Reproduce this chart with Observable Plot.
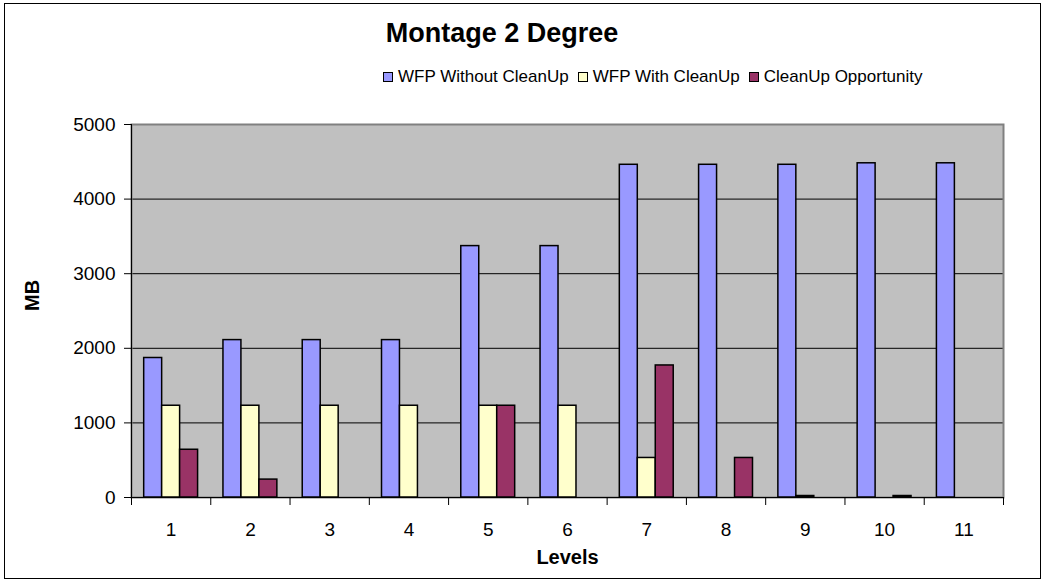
<!DOCTYPE html>
<html>
<head>
<meta charset="utf-8">
<script src="https://cdn.jsdelivr.net/npm/d3@7"></script>
<script src="https://cdn.jsdelivr.net/npm/@observablehq/plot@0.6"></script>
<style>
  html, body { margin: 0; padding: 0; background: white; }
  #chart { position: relative; width: 1045px; height: 582px; font-family: "Liberation Sans", Arial, sans-serif; color: black; overflow: hidden; }
  #border { position: absolute; left: 4px; top: 3px; width: 1035px; height: 574px; border: 1px solid black; pointer-events: none; }
  #title { position: absolute; left: 502px; transform: translateX(-50%); top: 17px; white-space: nowrap; font-size: 27px; font-weight: bold; line-height: 32px; }
  #legend { position: absolute; left: 383px; top: 66px; display: flex; align-items: center; font-size: 17px; line-height: 22px; white-space: nowrap; }
  .item { display: flex; align-items: center; margin-right: 9px; }
  .item:last-child { margin-right: 0; }
  .swatch { width: 8px; height: 8px; border: 1px solid black; margin-right: 5px; }
  #plots { position: absolute; left: 0; top: 100px; width: 1045px; height: 482px; }
  #plots svg { position: absolute; left: 0; top: 0; background: transparent !important; overflow: visible; }
</style>
</head>
<body>
<div id="chart">
  <div id="title"></div>
  <div id="legend"></div>
  <div id="plots"></div>
  <div id="border"></div>
</div>
<script>
// ---- data ----
const titleText = "Montage 2 Degree";
const levels = [1, 2, 3, 4, 5, 6, 7, 8, 9, 10, 11];
const seriesNames = ["WFP Without CleanUp", "WFP With CleanUp", "CleanUp Opportunity"];
const seriesColors = ["#9999ff", "#ffffcc", "#993366"];
const withoutCleanUp = [1870, 2110, 2110, 2110, 3370, 3370, 4460, 4460, 4460, 4480, 4480];
const withCleanUp    = [1230, 1230, 1230, 1230, 1230, 1230, 530, 0, 20, 0, 0];
const opportunity    = [640, 240, 0, 0, 1230, 0, 1770, 530, 0, 20, 0];
const yTicks = [0, 1000, 2000, 3000, 4000, 5000];
const xLabel = "Levels";
const yLabel = "MB";

// ---- header ----
document.getElementById("title").textContent = titleText;
const legend = document.getElementById("legend");
seriesNames.forEach((name, i) => {
  const item = document.createElement("div");
  item.className = "item";
  const sw = document.createElement("div");
  sw.className = "swatch";
  sw.style.background = seriesColors[i];
  const label = document.createElement("span");
  label.textContent = name;
  item.appendChild(sw);
  item.appendChild(label);
  legend.appendChild(item);
});

// ---- table ----
const seriesValues = [withoutCleanUp, withCleanUp, opportunity];
const rows = levels.flatMap((level, i) =>
  seriesValues.map((vals, s) => ({level, series: seriesNames[s], value: vals[i]}))
).filter(d => d.value > 0);

const W = 1045, H = 482;
const margins = {marginTop: 24, marginBottom: 85, marginLeft: 131, marginRight: 42};
const yScale = {domain: [yTicks[0], yTicks[yTicks.length - 1]]};
const font = {fontFamily: "'Liberation Sans', Arial, sans-serif", fontSize: "19px", background: "transparent", overflow: "visible"};

const boundaries = d3.range(levels[0] - 0.5, levels[levels.length - 1] + 1, 1);

// base: background, grid, axes
const base = Plot.plot({
  width: W, height: H, ...margins,
  style: font,
  x: {type: "linear", domain: [levels[0] - 0.5, levels[levels.length - 1] + 0.5], axis: null},
  y: {...yScale, axis: null},
  marks: [
    Plot.frame({fill: "#c0c0c0"}),
    Plot.ruleY(yTicks.slice(1, -1), {stroke: "black", strokeWidth: 1}),
    Plot.frame({stroke: "#808080", strokeWidth: 2}),
    Plot.ruleY([yTicks[0]], {stroke: "black", strokeWidth: 1}),
    Plot.ruleX([levels[0] - 0.5], {stroke: "black", strokeWidth: 1}),
    Plot.axisY({ticks: yTicks, tickSize: 7, tickPadding: 9, fontSize: 19, tickFormat: d3.format("d"), label: null}),
    Plot.axisX({ticks: boundaries, tickSize: 8, tickFormat: () => "", label: null}),
    Plot.axisX({ticks: levels, tickSize: 0, tickPadding: 25, fontSize: 19, tickFormat: d3.format("d"), label: null}),
    Plot.text([xLabel], {frameAnchor: "bottom", dy: 66, fontWeight: "bold", fontSize: 20}),
    Plot.text([yLabel], {frameAnchor: "left", dx: -99, rotate: -90, fontWeight: "bold", fontSize: 20})
  ]
});

// bars: grouped with facets
const bars = Plot.plot({
  width: W, height: H, ...margins,
  style: font,
  fx: {domain: levels, paddingInner: 0.32, paddingOuter: 0.16, axis: null, round: false, label: null},
  x: {domain: seriesNames, padding: 0, axis: null, round: false},
  y: {...yScale, axis: null},
  color: {domain: seriesNames, range: seriesColors},
  marks: [
    Plot.barY(rows, {fx: "level", x: "series", y: "value", fill: "series", stroke: "black", strokeWidth: 1.5})
  ]
});

const plots = document.getElementById("plots");
plots.appendChild(base);
plots.appendChild(bars);
</script>
</body>
</html>
